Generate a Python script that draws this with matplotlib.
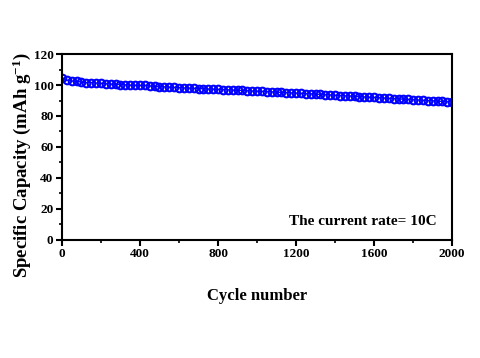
import matplotlib
matplotlib.use("Agg")
import matplotlib.pyplot as plt
from matplotlib.ticker import MultipleLocator

plt.rcParams['font.family'] = ['Liberation Serif', 'DejaVu Serif']
plt.rcParams['font.weight'] = 'bold'
plt.rcParams['mathtext.fontset'] = 'custom'
plt.rcParams['mathtext.rm'] = 'Liberation Serif:bold'
plt.rcParams['mathtext.it'] = 'Liberation Serif:bold'
plt.rcParams['mathtext.bf'] = 'Liberation Serif:bold'

# cycle data (every 25 cycles)
cycles = list(range(0, 2001, 25))
capacity = [104.8, 103.2, 102.6, 102.3, 102.0, 101.5, 101.6, 101.3, 101.1, 100.8,
            100.6, 100.5, 100.3, 100.1, 99.9, 99.8, 99.7, 99.8, 99.4, 99.1,
            98.9, 98.8, 98.6, 98.5, 98.3, 98.1, 98.0, 97.9, 97.7, 97.6,
            97.4, 97.3, 97.2, 97.0, 96.9, 96.7, 96.6, 96.5, 96.3, 96.1,
            96.0, 95.9, 95.7, 95.6, 95.4, 95.2, 95.1, 94.9, 94.8, 94.6,
            94.4, 94.3, 94.1, 93.9, 93.7, 93.6, 93.4, 93.2, 93.0, 92.9,
            92.7, 92.5, 92.3, 92.1, 92.0, 91.8, 91.6, 91.4, 91.2, 91.0,
            90.9, 90.7, 90.5, 90.3, 90.1, 89.9, 89.8, 89.6, 89.4, 89.2,
            89.0]

fig = plt.figure(figsize=(4.8, 3.58), dpi=100)
ax = fig.add_axes([0.129, 0.330, 0.813, 0.519])

ax.plot(cycles, capacity, color='#0000ff', lw=1.0, marker='o', markersize=5.5,
        markerfacecolor='none', markeredgecolor='#0000ff', markeredgewidth=1.5)

ax.set_xlim(0, 2000)
ax.set_ylim(0, 120)
ax.xaxis.set_major_locator(MultipleLocator(400))
ax.xaxis.set_minor_locator(MultipleLocator(200))
ax.yaxis.set_major_locator(MultipleLocator(20))
ax.yaxis.set_minor_locator(MultipleLocator(10))
ax.tick_params(which='major', direction='out', length=4, width=1.5, labelsize=9.5, pad=2)
ax.tick_params(which='minor', direction='out', length=2.5, width=1.2)
for s in ax.spines.values():
    s.set_linewidth(1.5)

ax.set_xlabel("Cycle number", fontsize=12, fontweight='bold', labelpad=20)
ax.set_ylabel("Specific Capacity (mAh g$^{-1}$)", fontsize=13.5, fontweight='bold')
ax.yaxis.set_label_coords(-0.075, 0.40)

ax.text(0.96, 0.1, "The current rate= 10C", transform=ax.transAxes,
        ha='right', va='center', fontsize=11, fontweight='bold')

fig.savefig("out.png", dpi=100)
